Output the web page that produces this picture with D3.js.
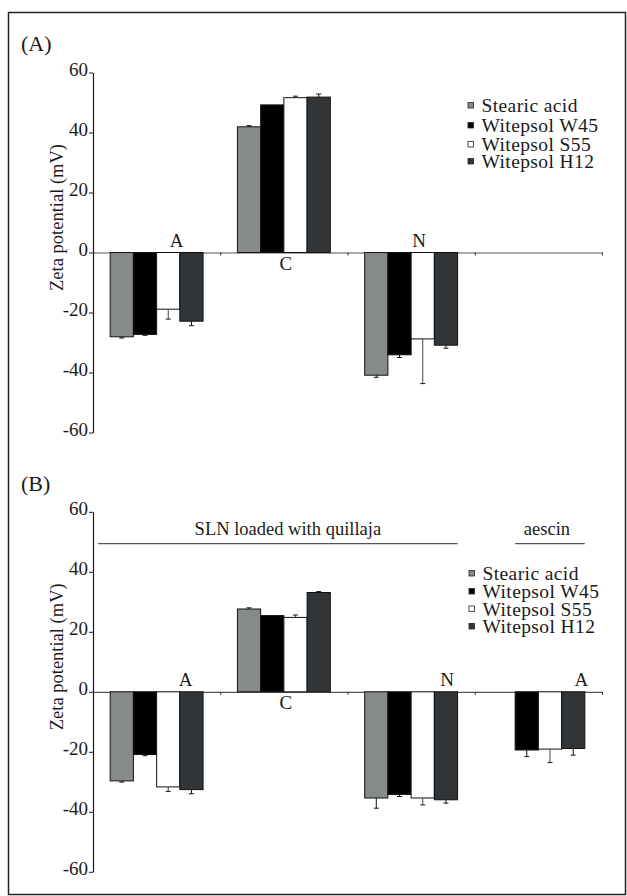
<!DOCTYPE html>
<html>
<head>
<meta charset="utf-8">
<script src="https://cdn.jsdelivr.net/npm/d3@7"></script>
<style>
  html, body { margin: 0; padding: 0; background: #fff; }
  svg { display: block; }
</style>
</head>
<body>
<svg id="chart"></svg>
<script>
const series = ["Stearic acid", "Witepsol W45", "Witepsol S55", "Witepsol H12"];
const colors = ["#878a8a", "#000000", "#ffffff", "#313538"];
const groups = ["A", "C", "N", "A-aescin"];
const groupLabels = ["A", "C", "N", "A"];
const yTicks = [-60, -40, -20, 0, 20, 40, 60];

// rows = series, columns = groups (mV)
const meanA = [
  [-28.1, 41.9, -40.9, null],
  [-27.3, 49.2, -34.1, null],
  [-18.9, 51.6, -28.8, null],
  [-22.9, 51.8, -30.9, null]
];
const errA = [
  [0.4, 0.4, 0.7, null],
  [0.3, 0.0, 0.9, null],
  [3.3, 0.5, 14.9, null],
  [1.5, 1.0, 1.0, null]
];
const meanB = [
  [-29.7, 27.6, -35.4, null],
  [-20.9, 25.4, -34.2, -19.4],
  [-31.7, 24.8, -35.4, -19.1],
  [-32.6, 33.1, -36.0, -18.9]
];
const errB = [
  [0.4, 0.4, 3.4, null],
  [0.4, 0.0, 0.7, 2.2],
  [1.5, 0.8, 2.3, 4.5],
  [1.4, 0.3, 1.1, 2.2]
];
const headersB = ["SLN loaded with quillaja", "aescin"];

const W = 627, H = 896;
const FONT = "'Liberation Serif','Times New Roman',serif";
const INK = "#1a1a1a";

const svg = d3.select("#chart").attr("width", W).attr("height", H);

// frame
svg.append("rect")
  .attr("x", 8.5).attr("y", 12.5)
  .attr("width", 617).attr("height", 882)
  .attr("fill", "none").attr("stroke", "#222").attr("stroke-width", 1.5);

const x0 = d3.scaleBand().domain(groups).range([93, 602]).padding(0);
const x1 = d3.scaleBand().domain(series).range([0, x0.bandwidth()]).paddingInner(0).paddingOuter(0.74);
const xTick = d3.scaleLinear().domain([0, groups.length]).range([93, 602]);

const panels = [
  { tag: "(A)", tagY: 51, top: 72.5, mean: meanA, err: errA,
    catDx: [20, 2, 8, 0], legendX: 468, legendY: [112, 132, 151, 168] },
  { tag: "(B)", tagY: 491, top: 511.8, mean: meanB, err: errB,
    catDx: [29, 2, 36, 43], legendX: 469, legendY: [580, 598, 615.5, 633], headers: headersB }
];

panels.forEach(p => {
  const y = d3.scaleLinear().domain([-60, 60]).range([p.top + 360, p.top]);
  const y0 = y(0);
  const g = svg.append("g");

  g.append("text")
    .attr("x", 21).attr("y", p.tagY)
    .style("font-family", FONT).style("font-size", "22px").style("fill", INK)
    .text(p.tag);

  // y axis
  g.append("g")
    .attr("transform", "translate(93,0)")
    .call(d3.axisLeft(y).tickValues(yTicks).tickSize(4).tickSizeOuter(0).tickPadding(1).tickFormat(d => String(d)))
    .call(ax => {
      ax.select(".domain").attr("stroke", INK).attr("stroke-width", 1.2);
      ax.selectAll(".tick line").attr("stroke", INK);
      ax.selectAll(".tick text")
        .attr("dy", "0.15em")
        .style("font-family", FONT).style("font-size", "19px").style("fill", INK);
    });

  g.append("text")
    .attr("transform", "rotate(-90)")
    .attr("x", -(y0 - 35)).attr("y", 63)
    .attr("text-anchor", "middle")
    .style("font-family", FONT).style("font-size", "18.5px").style("fill", INK)
    .text("Zeta potential (mV)");

  // zero line with group separators
  g.append("g")
    .attr("transform", `translate(0,${y0})`)
    .call(d3.axisBottom(xTick).tickValues(d3.range(1, groups.length + 1)).tickSize(3).tickSizeOuter(0).tickFormat(""))
    .call(ax => {
      ax.select(".domain").attr("stroke", "#555").attr("stroke-width", 1.2);
      ax.selectAll(".tick line").attr("stroke", "#333");
    });

  // bars
  const cells = [];
  series.forEach((s, si) => groups.forEach((c, ci) => {
    const v = p.mean[si][ci];
    if (v !== null) cells.push({ s, si, c, ci, v, e: p.err[si][ci] });
  }));

  g.selectAll(".bar").data(cells).join("rect")
    .attr("class", "bar")
    .attr("x", d => x0(d.c) + x1(d.s))
    .attr("width", x1.bandwidth())
    .attr("y", d => Math.min(y(d.v), y0))
    .attr("height", d => Math.abs(y(d.v) - y0))
    .attr("fill", d => colors[d.si])
    .attr("stroke", "#111").attr("stroke-width", 1);

  // error bars (one-sided, away from zero)
  const eb = g.selectAll(".err").data(cells.filter(d => d.e > 0)).join("g").attr("class", "err");
  const cx = d => x0(d.c) + x1(d.s) + x1.bandwidth() / 2;
  const yEnd = d => y(d.v + Math.sign(d.v) * d.e);
  eb.append("line")
    .attr("x1", cx).attr("x2", cx)
    .attr("y1", d => y(d.v)).attr("y2", yEnd)
    .attr("stroke", d => d.si === 2 ? "#444" : "#111").attr("stroke-width", 1);
  eb.append("line")
    .attr("x1", d => cx(d) - 2.5).attr("x2", d => cx(d) + 2.5)
    .attr("y1", yEnd).attr("y2", yEnd)
    .attr("stroke", "#111").attr("stroke-width", 1);

  // category labels
  groups.forEach((c, ci) => {
    const vals = p.mean.map(r => r[ci]).filter(v => v !== null);
    if (!vals.length) return;
    const neg = vals[0] < 0;
    g.append("text")
      .attr("x", x0(c) + x0.bandwidth() / 2 + p.catDx[ci])
      .attr("y", neg ? y0 - 6 : y0 + 17)
      .attr("text-anchor", "middle")
      .style("font-family", FONT).style("font-size", "19px").style("fill", INK)
      .text(groupLabels[ci]);
  });

  // legend
  series.forEach((s, si) => {
    const ly = p.legendY[si];
    g.append("rect")
      .attr("x", p.legendX).attr("y", ly - 9.5)
      .attr("width", 5.5).attr("height", 5.5)
      .attr("fill", colors[si]).attr("stroke", "#222").attr("stroke-width", 0.8);
    g.append("text")
      .attr("x", p.legendX + 13.5).attr("y", ly)
      .style("font-family", FONT).style("font-size", "19.5px").style("fill", INK)
      .style("letter-spacing", "0.4px")
      .text(s);
  });

  // headers over bar groups (panel B)
  if (p.headers) {
    const hy = y(49.4);
    const spans = [
      [x0("A") + x1(series[0]) - 12, x0("N") + x1(series[3]) + x1.bandwidth()],
      [x0("A-aescin") + x1(series[1]), x0("A-aescin") + x1(series[3]) + x1.bandwidth()]
    ];
    spans.forEach((sp, i) => {
      g.append("line")
        .attr("x1", sp[0]).attr("x2", sp[1])
        .attr("y1", hy).attr("y2", hy)
        .attr("stroke", "#555").attr("stroke-width", 1.3);
      g.append("text")
        .attr("x", (sp[0] + sp[1]) / 2 + (i === 0 ? 10 : -3)).attr("y", hy - 8.5)
        .attr("text-anchor", "middle")
        .style("font-family", FONT).style("font-size", "18.5px").style("fill", INK)
        .text(p.headers[i]);
    });
  }
});
</script>
</body>
</html>
